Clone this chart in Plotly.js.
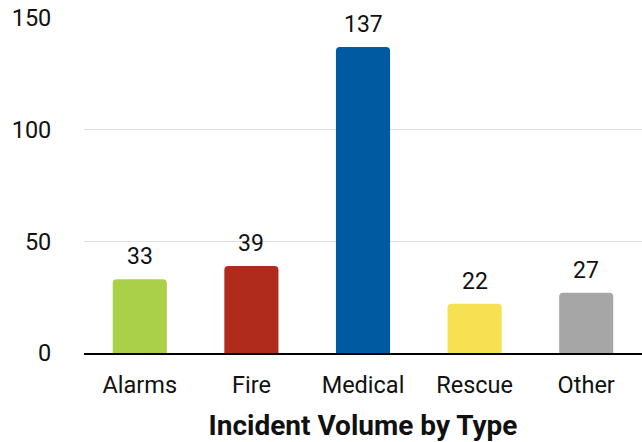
<!DOCTYPE html>
<html><head><meta charset="utf-8">
<script src="https://cdn.plot.ly/plotly-3.0.1.min.js"></script>
<style>html,body{margin:0;padding:0;background:#fff}#chart{width:642px;height:442px}</style>
</head><body><div id="chart"></div>
<script>
const categories = ["Alarms", "Fire", "Medical", "Rescue", "Other"];
const values = [33, 39, 137, 22, 27];
const barColors = ["#AACF48", "#B02B1C", "#005AA1", "#F6E152", "#A6A6A6"];
const yTicks = [0, 50, 100, 150];
const xTitle = "Incident Volume by Type";

const fontFam = "Roboto, 'Noto Sans', sans-serif";
const trace = {
  type: "bar", x: categories, y: values,
  marker: {color: barColors, cornerradius: 4},
  hoverinfo: "none", cliponaxis: false
};
const annotations = categories.map((c, i) => ({
  x: c, y: values[i], text: String(values[i]), showarrow: false,
  xref: "x", yref: "y", yanchor: "bottom", yshift: 7,
  font: {family: fontFam, size: 23, color: "#111"}
}));
const layout = {
  width: 642, height: 442,
  margin: {l: 84, r: 0, t: 18, b: 89},
  paper_bgcolor: "#fff", plot_bgcolor: "#fff",
  showlegend: false, bargap: 0.515,
  font: {family: fontFam, size: 23, color: "#111"},
  xaxis: {
    showline: true, linecolor: "#000", linewidth: 2,
    ticks: "outside", ticklen: 10, tickcolor: "rgba(0,0,0,0)",
    tickfont: {size: 23.5, color: "#111"},
    title: {text: "<b>" + xTitle + "</b>", font: {size: 28, color: "#111"}, standoff: 17}
  },
  yaxis: {
    range: [0, 150], tickvals: yTicks, showgrid: true, gridcolor: "#e0e0e0", gridwidth: 1,
    zeroline: false, showline: false,
    ticks: "outside", ticklen: 27, tickcolor: "rgba(0,0,0,0)",
    tickfont: {size: 23.5, color: "#111"}
  },
  annotations: annotations
};
Plotly.newPlot("chart", [trace], layout, {displayModeBar: false, staticPlot: true});
</script></body></html>
